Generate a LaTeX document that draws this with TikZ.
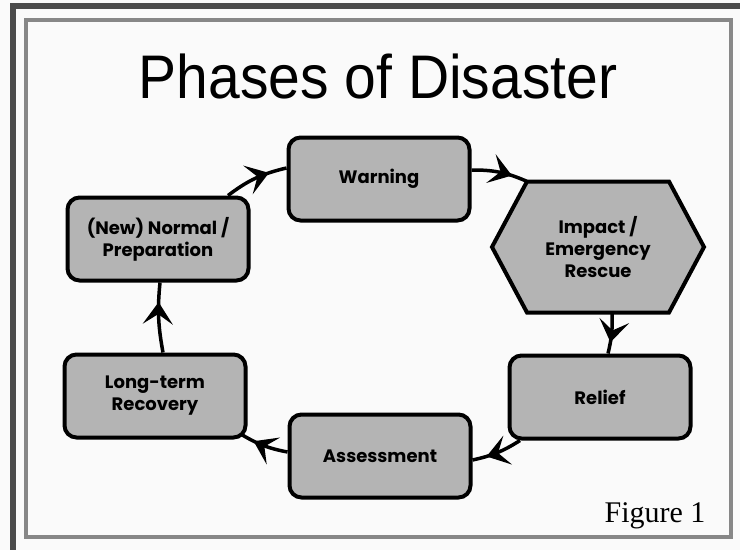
\documentclass[tikz,border=0pt]{standalone}
\usepackage{fontspec}
\setmainfont{Liberation Serif}
\newfontfamily\titlefont{Liberation Sans}
\newfontfamily\boxfont{Poppins}
\usetikzlibrary{arrows.meta,positioning,calc,decorations.markings}
\definecolor{boxgray}{RGB}{180,180,180}
\definecolor{framegray}{RGB}{135,135,135}
\definecolor{stripgray}{RGB}{75,75,75}
\definecolor{paper}{RGB}{250,250,250}

\begin{document}
\begin{tikzpicture}[x=1pt, y=-1pt,
    phase/.style={draw=black, line width=4pt, fill=boxgray, rounded corners=12pt,
        minimum width=181pt, minimum height=83pt, align=center,
        font=\boxfont\bfseries\fontsize{18}{22}\selectfont},
    hextext/.style={minimum width=142pt, minimum height=131pt, align=center,
        font=\boxfont\bfseries\fontsize{18}{22}\selectfont},
    flow/.style={line width=3.5pt, postaction={decorate}, decoration={markings,
        mark=at position 0.72 with {\arrow{Stealth[length=22pt,width=30pt,inset=10pt]}}}}]
    \useasboundingbox (0,0) rectangle (740,550);
    \fill[paper] (0,0) rectangle (740,550);

    % Frame
    \fill[stripgray] (10,3) rectangle (16,550);
    \fill[stripgray] (10,3) rectangle (740,9);
    \draw[framegray, line width=4pt] (26,20) rectangle (731,537);

    % Title
    \node[font=\titlefont\fontsize{57}{60}\selectfont, yscale=1.08] (title) at (378,76) {Phases of Disaster};

    % Phases
    \node[phase] (warn) at (379,179) {Warning};
    \coordinate (impc) at (598,247);
    \draw[line width=4pt, fill=boxgray, line join=miter]
        ($(impc)+(-71,-65.5)$) -- ($(impc)+(71,-65.5)$) -- ($(impc)+(106,0)$)
        -- ($(impc)+(71,65.5)$) -- ($(impc)+(-71,65.5)$) -- ($(impc)+(-106,0)$) -- cycle;
    \node[hextext] (imp) at (impc) {Impact /\\Emergency\\Rescue};
    \node[phase] (rel) at (600,397) {Relief};
    \node[phase] (ass) at (380,456) {Assessment};
    \node[phase] (lt) at (155,396) {Long-term\\Recovery};
    \node[phase] (norm) at (158,239) {(New) Normal /\\Preparation};

    % Figure label
    \node[font=\fontsize{30}{32}\selectfont, anchor=base east] (fig) at (709,522) {Figure 1};

    % Connections
    \draw[flow] ([xshift=70pt]norm.north) to[bend left=12] ([yshift=11pt]warn.west);
    \draw[flow] ([yshift=9pt]warn.east) to[bend left=12] (imp.north west);
    \draw[flow] ([xshift=14pt]imp.south) to[bend left=8] ([xshift=8pt]rel.north);
    \draw[flow] ([xshift=-80pt]rel.south) to[bend left=10] ([yshift=-4pt]ass.east);
    \draw[flow] ([yshift=4pt]ass.west) to[bend left=10] ([xshift=-6pt,yshift=5pt]lt.south east);
    \draw[flow] ([xshift=8pt]lt.north) to[bend left=8] ([xshift=2pt]norm.south);

\end{tikzpicture}
\end{document}
